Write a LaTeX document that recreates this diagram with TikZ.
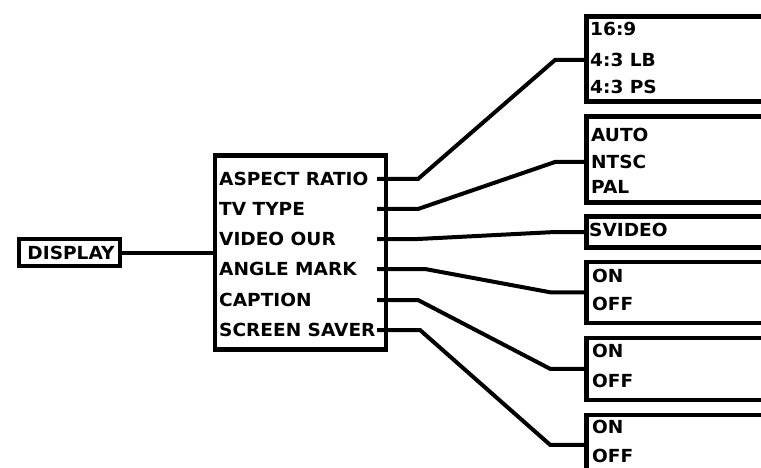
\documentclass[tikz,border=0pt]{standalone}
\usepackage{fontspec}
\setmainfont{DejaVu Sans}[FakeStretch=1.03]
\usepackage{tikz}
\usetikzlibrary{positioning,calc}

\begin{document}
\begin{tikzpicture}[x=1pt,y=-1pt,
    box/.style={draw, line width=4.5pt, inner sep=0pt},
    item/.style={anchor=west, inner sep=0pt, text height=13.1pt, text depth=0pt,
                 font=\fontsize{18}{21}\selectfont\bfseries},
    wire/.style={line width=4pt, line join=miter}]
    \useasboundingbox (0,0) rectangle (761,468);
    \clip (0,0) rectangle (761,468);

    % Display box and menu box
    \node[box, minimum width=101pt, minimum height=27pt] (disp) at (69.5,252.5) {};
    \node[item, anchor=center] at (71,252.5) {DISPLAY};
    \node[box, minimum width=171pt, minimum height=194pt] (menu) at (300.5,252.5) {};
    \draw[wire] (disp.east) -- (menu.west);

    % Menu items
    \node[item] (asp) at (219,179) {ASPECT RATIO};
    \node[item] (tvt) at (219,209) {TV TYPE};
    \node[item] (vid) at (219,239) {VIDEO OUR};
    \node[item] (ang) at (219,269) {ANGLE MARK};
    \node[item] (cap) at (219,300) {CAPTION};
    \node[item] (scr) at (219,330) {SCREEN SAVER};

    % Stub starts
    \coordinate (s1) at (377,179);
    \coordinate (s2) at (377,209);
    \coordinate (s3) at (377,239);
    \coordinate (s4) at (377,269);
    \coordinate (s5) at (377,300);
    \coordinate (s6) at (377,330);

    % Option boxes
    \node[box, anchor=north west, minimum width=230pt, minimum height=85pt] (rbox1) at (584,14.5) {};
    \node[box, anchor=north west, minimum width=230pt, minimum height=86pt] (rbox2) at (584,114.5) {};
    \node[box, anchor=north west, minimum width=230pt, minimum height=30.5pt] (rbox3) at (584,214.5) {};
    \node[box, anchor=north west, minimum width=230pt, minimum height=61pt] (rbox4) at (584,259.5) {};
    \node[box, anchor=north west, minimum width=230pt, minimum height=62pt] (rbox5) at (584,335.5) {};
    \node[box, anchor=north west, minimum width=230pt, minimum height=60pt] (rbox6) at (584,412.5) {};

    % Options
    \node[item] (opt11) at (590,29) {16:9};
    \node[item] (opt12) at (590,60) {4:3 LB};
    \node[item] (opt13) at (590,87) {4:3 PS};
    \node[item] (opt21) at (591,135) {AUTO};
    \node[item] (opt22) at (591,162) {NTSC};
    \node[item] (opt23) at (591,187) {PAL};
    \node[item] (opt31) at (589,229.5) {SVIDEO};
    \node[item] (opt41) at (592,276) {ON};
    \node[item] (opt42) at (592,304) {OFF};
    \node[item] (opt51) at (592,351) {ON};
    \node[item] (opt52) at (592,381) {OFF};
    \node[item] (opt61) at (592,427) {ON};
    \node[item] (opt62) at (592,456) {OFF};

    % Draw connecting lines
    \coordinate (e1) at (rbox1.west |- opt12.west);
    \coordinate (e2) at (rbox2.west |- opt22.west);
    \draw[wire] (s1) -- ++(41,0) -- ($(e1)+(-29,0)$) -- (e1);
    \draw[wire] (s2) -- ++(41,0) -- ($(e2)+(-29,0)$) -- (e2);
    \draw[wire] (s3) -- ++(41,0) -- ($(rbox3.west)+(-29,0)$) -- (rbox3.west);
    \draw[wire] (s4) -- ++(48,0) -- ($(rbox4.west)+(-34,0)$) -- (rbox4.west);
    \draw[wire] (s5) -- ++(41,0) -- ($(rbox5.west)+(-34,0)$) -- (rbox5.west);
    \draw[wire] (s6) -- ++(43,0) -- ($(rbox6.west)+(-34,0)$) -- (rbox6.west);
\end{tikzpicture}
\end{document}
